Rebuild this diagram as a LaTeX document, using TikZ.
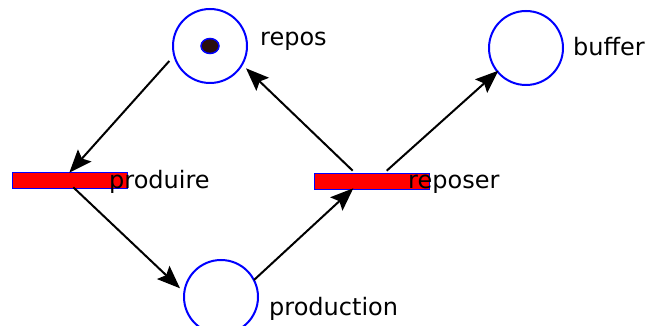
\documentclass[tikz,border=0pt]{standalone}
\usepackage{fontspec}
\setmainfont{DejaVu Sans}
\usetikzlibrary{arrows.meta,calc}
\definecolor{tokcol}{RGB}{42,14,14}
\tikzset{
  place/.style={circle,draw=blue,line width=2pt,minimum size=74pt,inner sep=0pt},
  trans/.style={rectangle,draw=blue,fill=red,line width=1pt,minimum width=115pt,minimum height=16pt,inner sep=0pt},
  tok/.style={ellipse,draw=blue,fill=tokcol,line width=1.5pt,minimum width=18pt,minimum height=15pt,inner sep=0pt},
  lbl/.style={anchor=base west,inner sep=0pt,font=\fontsize{24}{28}\selectfont},
  arr/.style={draw=black,line width=2pt,-{Stealth[length=23pt,width=18pt,inset=4pt]}}
}
\usetikzlibrary{shapes.geometric}
\begin{document}
\begin{tikzpicture}[x=1pt,y=-1pt]
\useasboundingbox (0,0) rectangle (646,326);
\node[place] (repos) at (210,46) {};
\node[tok] (jeton) at (210,46) {};
\node[place] (buffer) at (526,48) {};
\node[place] (production) at (221,297) {};
\node[trans] (produire) at (69.5,181) {};
\node[trans] (reposer) at (372,182) {};
\node[lbl] (lrepos) at (260,46) {repos};
\node[lbl] (lbuffer) at (573,56) {buffer};
\node[lbl] (lproduire) at (109,189) {produire};
\node[lbl] (lreposer) at (408,189) {reposer};
\node[lbl] (lproduction) at (269,316) {production};
\draw[arr] ($(repos)+(-40.7,15)$) -- ($(produire)+(-0.2,-8.3)$);
\draw[arr] ($(produire)+(3.8,6.3)$) -- ($(production)+(-41,-8.7)$);
\draw[arr] ($(production)+(33,-17)$) -- ($(reposer)+(-18.7,6.3)$);
\draw[arr] ($(reposer)+(-19.3,-11.3)$) -- ($(repos)+(36,22.3)$);
\draw[arr] ($(reposer)+(14.7,-11.3)$) -- ($(buffer)+(-27.7,22.7)$);
\end{tikzpicture}
\end{document}
